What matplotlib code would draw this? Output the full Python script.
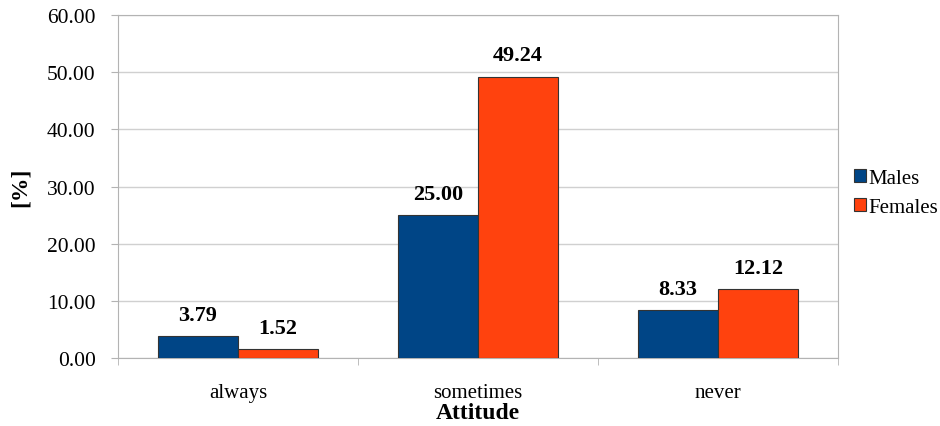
import matplotlib
matplotlib.use("Agg")
import matplotlib.pyplot as plt
import numpy as np

categories = ["always", "sometimes", "never"]
males = [3.79, 25.00, 8.33]
females = [1.52, 49.24, 12.12]

plt.rcParams['font.family'] = ['Liberation Serif', 'DejaVu Serif']

fig = plt.figure(figsize=(9.4, 4.27), dpi=100)
ax = fig.add_axes([0.1255, 0.1593, 0.766, 0.803])

x = np.arange(len(categories))
w = 1.0 / 3
b1 = ax.bar(x - w / 2, males, w, color='#004586', edgecolor='#333333', linewidth=0.8, label='Males', zorder=3)
b2 = ax.bar(x + w / 2, females, w, color='#ff420e', edgecolor='#333333', linewidth=0.8, label='Females', zorder=3)

# value labels above each bar
for bars in (b1, b2):
    for r in bars:
        h = r.get_height()
        ax.annotate('%.2f' % h, (r.get_x() + r.get_width() / 2, h),
                    xytext=(0, 8), textcoords='offset points',
                    ha='center', va='bottom', fontsize=16, fontweight='bold')

ax.set_xlim(-0.5, len(categories) - 0.5)
ax.set_ylim(0, 60)
ax.set_yticks(np.arange(0, 61, 10))
ax.set_yticklabels(['%.2f' % v for v in np.arange(0, 61, 10)], fontsize=15.5)
ax.set_xticks(x)
ax.set_xticklabels(categories, fontsize=15)
ax.set_xticks(np.arange(-0.5, len(categories), 1), minor=True)
ax.tick_params(axis='x', which='major', length=0, pad=18)
ax.tick_params(axis='x', which='minor', length=5, color='#b3b3b3')
ax.tick_params(axis='y', length=5, color='#b3b3b3', pad=11)

ax.grid(axis='y', color='#d0d0d0', linewidth=1, zorder=0)
for s in ax.spines.values():
    s.set_color('#b3b3b3')

ax.set_xlabel('Attitude', fontsize=17, fontweight='bold', labelpad=0)
ax.set_ylabel('[%]', fontsize=17, fontweight='bold', labelpad=12)

fig.legend(loc='center left', bbox_to_anchor=(0.9, 0.546), frameon=False,
           fontsize=15, handlelength=0.55, handleheight=0.55, handletextpad=0.12,
           labelspacing=0.5, borderaxespad=0)

fig.savefig('out.png', dpi=100)
